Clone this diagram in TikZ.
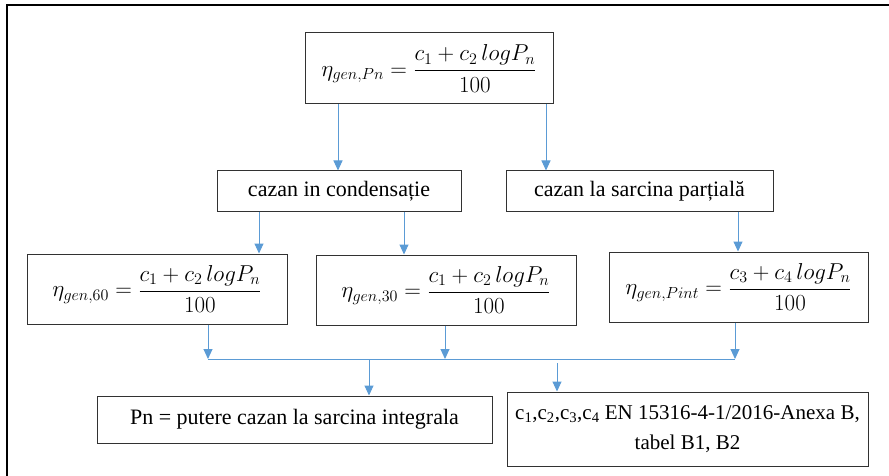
\documentclass[tikz,border=0pt]{standalone}
\usepackage{amsmath}
\usepackage{fix-cm}
\usepackage{fontspec}
\setmainfont{Liberation Serif}
\newfontfamily\tnrfont{Liberation Serif}
\usetikzlibrary{arrows.meta}
\definecolor{arrblue}{RGB}{91,155,213}
\definecolor{boxline}{RGB}{50,50,50}
\begin{document}
\begin{tikzpicture}[x=1pt,y=-1pt,
  box/.style={draw=boxline,line width=1pt,inner sep=0pt,align=center,font=\tnrfont\fontsize{22}{30}\selectfont},
  mbox/.style={box,font=\tnrfont\fontsize{23}{30}\selectfont},
  conn/.style={draw=arrblue,line width=1pt},
  arr/.style={conn,-{Triangle[width=9pt,length=10pt]}}]
\useasboundingbox (0,0) rectangle (889,476);
\draw[line width=2.2pt,line cap=rect] (7,476) -- (7,5) -- (889,5);
% boxes
\node[mbox,minimum width=248pt,minimum height=71pt] (top) at (429,68.5)
  {$\eta_{gen,Pn}=\dfrac{c_1+c_2\,logP_n}{100}$};
\node[box,minimum width=244pt,minimum height=40pt] (cond) at (339,191)
  {cazan in condensație};
\node[box,minimum width=267pt,minimum height=40pt] (part) at (639.5,191)
  {cazan la sarcina parțială};
\node[mbox,minimum width=260pt,minimum height=70pt] (b60) at (157,289)
  {$\eta_{gen,60}=\dfrac{c_1+c_2\,logP_n}{100}$};
\node[mbox,minimum width=260pt,minimum height=70pt] (b30) at (446,290)
  {$\eta_{gen,30}=\dfrac{c_1+c_2\,logP_n}{100}$};
\node[mbox,minimum width=259pt,minimum height=70pt] (bpi) at (738.5,287)
  {$\eta_{gen,Pint}=\dfrac{c_3+c_4\,logP_n}{100}$};
\node[box,minimum width=395pt,minimum height=47pt] (pn) at (294.5,419.5)
  {Pn = putere cazan la sarcina integrala};
\node[box,font=\tnrfont\fontsize{21}{30}\selectfont,minimum width=361pt,minimum height=74pt] (cc) at (687.5,429)
  {c\textsubscript{1},c\textsubscript{2},c\textsubscript{3},c\textsubscript{4} EN 15316-4-1/2016-Anexa B,\\tabel B1, B2};
% connector x positions
\coordinate (xa) at (338,0);
\coordinate (xb) at (546,0);
\coordinate (xc) at (259,0);
\coordinate (xd) at (404,0);
\coordinate (xe) at (738,0);
\coordinate (xf) at (208,0);
\coordinate (xg) at (445,0);
\coordinate (xh) at (735,0);
\coordinate (xi) at (369,0);
\coordinate (xj) at (557,0);
\coordinate (bus) at (0,359);
\coordinate (busB) at (0,363);
\draw[arr] (xa |- top.south) -- (xa |- cond.north);
\draw[arr] (xb |- top.south) -- (xb |- part.north);
\draw[arr] (xc |- cond.south) -- (xc |- b60.north);
\draw[arr] (xd |- cond.south) -- (xd |- b30.north);
\draw[arr] (xe |- part.south) -- (xe |- bpi.north);
\draw[arr] (xf |- b60.south) -- (xf |- bus);
\draw[arr] (xg |- b30.south) -- (xg |- bus);
\draw[arr] (xh |- bpi.south) -- (xh |- bus);
\draw[conn] (xf |- bus) -- (xh |- bus);
\draw[arr] (xi |- bus) -- (xi |- pn.north);
\draw[arr] (xj |- busB) -- (xj |- cc.north);
\end{tikzpicture}
\end{document}
